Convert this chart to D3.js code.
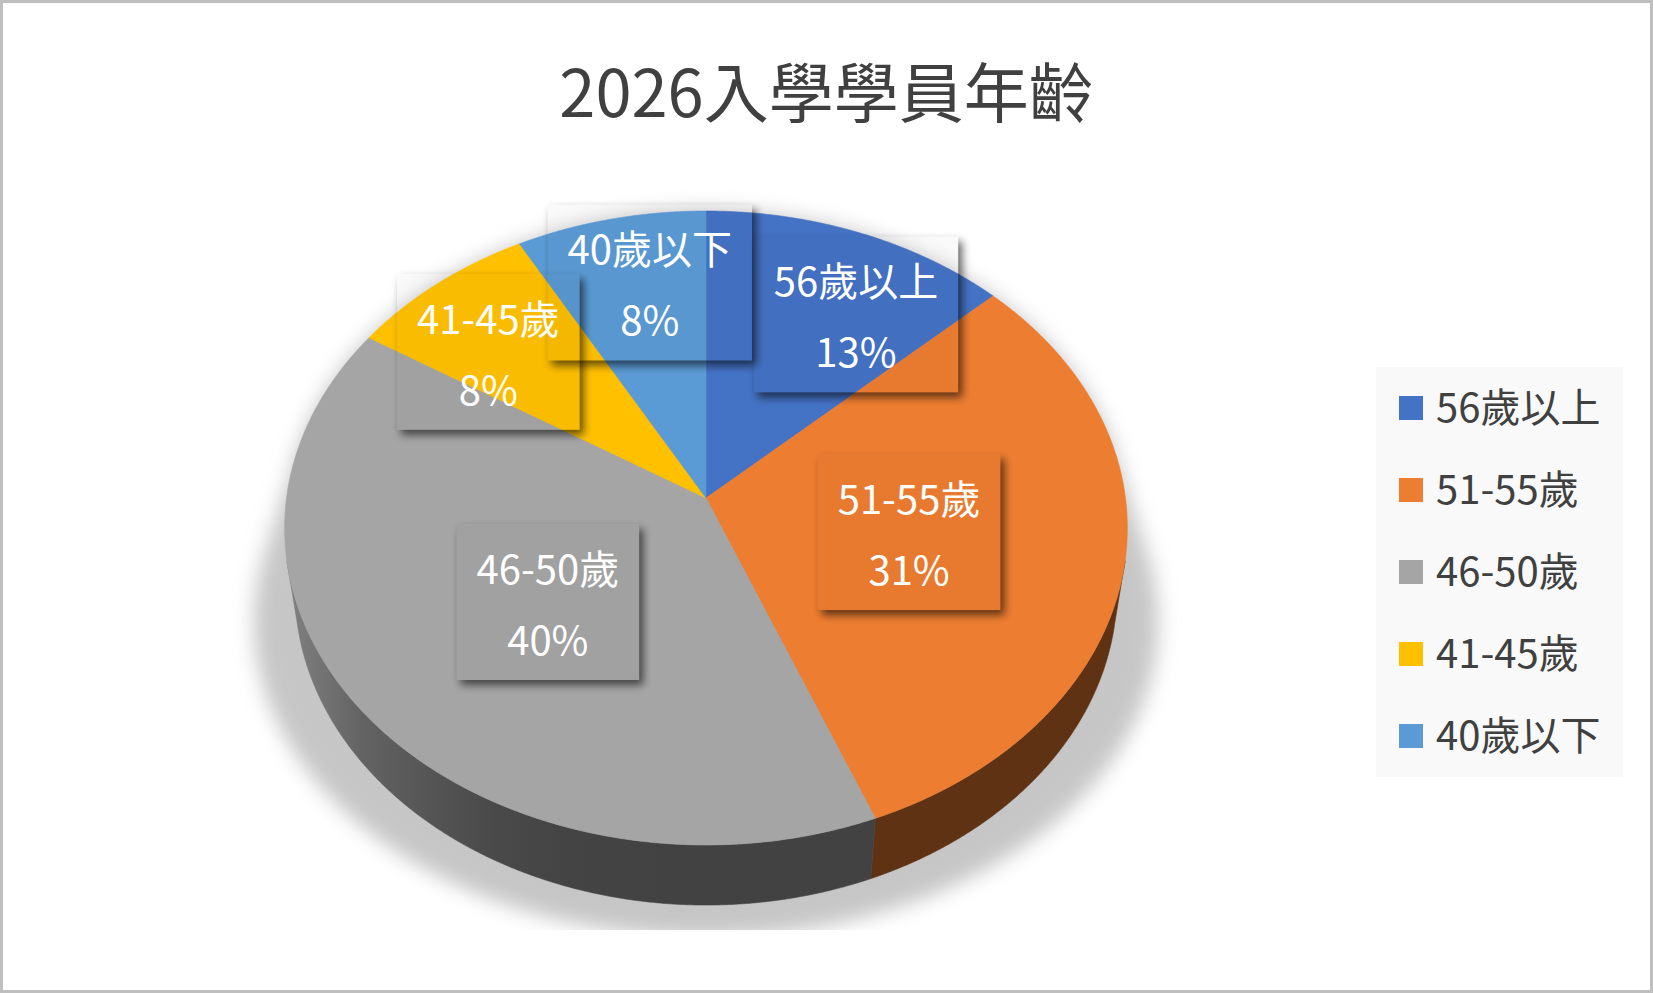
<!DOCTYPE html>
<html>
<head>
<meta charset="utf-8">
<script src="https://cdn.jsdelivr.net/npm/d3@7"></script>
<style>
  body { margin: 0; background: #fff; }
  svg { display: block; }
  text { font-family: "Noto Sans CJK TC", "Noto Sans", sans-serif; }
</style>
</head>
<body>
<svg id="chart" width="1653" height="993"></svg>
<script>
// DATA
var title = "2026入學學員年齡";
var categories = ["56歲以上", "51-55歲", "46-50歲", "41-45歲", "40歲以下"];
var shares = [13, 31, 40, 8, 8];
var colors = ["#4472C4", "#ED7D31", "#A5A5A5", "#FFC000", "#5B9BD5"];

// LAYOUT
var width = 1653, height = 993;
// perspective camera for the tilted pie (unit radius disc)
var cam = { cx: 706, cy: 498, F: 2936, D: 7.0, s: 0.749, c: 0.6626, h: 0.232 };
// manual label nudges (px) from the projected slice centroid, like the Excel layout
var labelNudge = [[52, -12], [-54, -7], [50, -23], [-47, -8], [5, -35]];
// side shading: [offset, brightness factor] across the pie width
var sideShade = [[0, 0.78], [0.09, 0.6], [0.17, 0.515], [0.25, 0.44], [0.33, 0.41], [0.45, 0.4], [1, 0.4]];

var svg = d3.select("#chart");
var defs = svg.append("defs");

// project a point of the disc: angle clockwise from 12 o'clock, radius fraction, height (0 top, -h bottom)
function project(theta, r, y) {
  var X = r * Math.sin(theta), Z = -r * Math.cos(theta);
  var depth = cam.D - (y * cam.s + Z * cam.c);
  var yc = y * cam.c - Z * cam.s;
  return [cam.cx + cam.F * X / depth, cam.cy - cam.F * yc / depth];
}

var step = Math.PI / 720;
function rim(a0, a1, r, y) {
  var pts = [];
  var n = Math.max(2, Math.ceil((a1 - a0) / step));
  for (var i = 0; i <= n; i++) {
    pts.push(project(a0 + (a1 - a0) * i / n, r, y));
  }
  return pts;
}

var line = d3.line();
var arcs = d3.pie().sort(null).value(function(d) { return d; })(shares);
var total = d3.sum(shares);
var pct = d3.format(".0%");

// pie drop shadow
var shFilter = defs.append("filter").attr("id", "pieShadow")
  .attr("x", "-20%").attr("y", "-20%").attr("width", "140%").attr("height", "140%");
shFilter.append("feGaussianBlur").attr("stdDeviation", 10);
defs.append("clipPath").attr("id", "shadowClip")
  .append("rect").attr("x", 0).attr("y", 0).attr("width", width).attr("height", 930);

var topRim = rim(0, 2 * Math.PI, 1, 0);
var lowRim = rim(0, 2 * Math.PI, 1, -cam.h).map(function(p) {
  return [cam.cx + (p[0] - cam.cx) * 1.1, p[1] + 32];
});
var hull = d3.polygonHull(topRim.concat(lowRim));
svg.append("g").attr("clip-path", "url(#shadowClip)")
  .append("path")
  .attr("d", line(hull) + "Z")
  .attr("fill", "#c6c6c6")
  .attr("filter", "url(#pieShadow)");

// side gradients
arcs.forEach(function(a, i) {
  var g = defs.append("linearGradient").attr("id", "side" + i)
    .attr("gradientUnits", "userSpaceOnUse")
    .attr("x1", 287).attr("x2", 1126).attr("y1", 0).attr("y2", 0);
  var base = d3.rgb(colors[i]);
  sideShade.forEach(function(st) {
    g.append("stop").attr("offset", st[0])
      .attr("stop-color", d3.rgb(base.r * st[1], base.g * st[1], base.b * st[1]).formatHex());
  });
});

// visible part of the cylinder wall
var vis = Math.acos(-1 / (cam.D * cam.c));
var visStart = vis - 0.02, visEnd = 2 * Math.PI - vis + 0.02;

var sides = svg.append("g");
arcs.forEach(function(a, i) {
  var t0 = Math.max(a.startAngle, visStart), t1 = Math.min(a.endAngle, visEnd);
  if (t1 <= t0) return;
  var pts = rim(t0, t1, 1, 0).concat(rim(t0, t1, 1, -cam.h).reverse());
  sides.append("path")
    .attr("d", line(pts) + "Z")
    .attr("fill", "url(#side" + i + ")")
    .attr("stroke", "url(#side" + i + ")")
    .attr("stroke-width", 0.6);
});

// top faces
svg.append("g").selectAll("path")
  .data(arcs)
  .enter()
  .append("path")
  .attr("d", function(a) {
    return line([project(0, 0, 0)].concat(rim(a.startAngle, a.endAngle, 1, 0))) + "Z";
  })
  .attr("fill", function(a, i) { return colors[i]; })
  .attr("stroke", function(a, i) { return colors[i]; })
  .attr("stroke-width", 0.6);

// data labels
var lf = defs.append("filter").attr("id", "lblShadow")
  .attr("x", "-30%").attr("y", "-30%").attr("width", "160%").attr("height", "160%");
lf.append("feGaussianBlur").attr("in", "SourceAlpha").attr("stdDeviation", 4).attr("result", "blur");
lf.append("feOffset").attr("in", "blur").attr("dx", 4).attr("dy", 5).attr("result", "off");
lf.append("feComponentTransfer").attr("in", "off").attr("result", "sh")
  .append("feFuncA").attr("type", "linear").attr("slope", 0.6);
lf.append("feComposite").attr("in", "sh").attr("in2", "SourceAlpha").attr("operator", "out");

var labelData = arcs.map(function(a, i) {
  var mid = (a.startAngle + a.endAngle) / 2;
  var p = project(mid, 0.62, 0);
  return { name: categories[i], value: pct(a.data / total), x: p[0] + labelNudge[i][0], y: p[1] + labelNudge[i][1] };
});

var shadowLayer = svg.append("g");
var boxLayer = svg.append("g");
var textLayer = svg.append("g");

labelData.forEach(function(d) {
  var t = textLayer.append("g").attr("fill", "#fff").attr("font-size", 40).attr("text-anchor", "middle");
  var t1 = t.append("text").attr("x", d.x).attr("y", d.y - 20).text(d.name);
  var t2 = t.append("text").attr("x", d.x).attr("y", d.y + 51).text(d.value);
  var w = Math.max(t1.node().getComputedTextLength(), t2.node().getComputedTextLength()) + 40;
  shadowLayer.append("rect")
    .attr("x", d.x - w / 2).attr("y", d.y - 80).attr("width", w).attr("height", 156)
    .attr("fill", "#000").attr("filter", "url(#lblShadow)");
  boxLayer.append("rect")
    .attr("x", d.x - w / 2).attr("y", d.y - 80).attr("width", w).attr("height", 156)
    .attr("fill", "rgba(0,0,0,0.02)");
});

// legend
var legend = svg.append("g");
legend.append("rect").attr("x", 1376).attr("y", 367).attr("width", 247).attr("height", 410).attr("fill", "#f9f9f9");
var item = legend.selectAll("g.item")
  .data(categories)
  .enter()
  .append("g")
  .attr("class", "item")
  .attr("transform", function(d, i) { return "translate(1399," + (408 + i * 82) + ")"; });
item.append("rect").attr("x", 0).attr("y", -12).attr("width", 24).attr("height", 24)
  .attr("fill", function(d, i) { return colors[i]; });
item.append("text").attr("x", 37).attr("y", 14).attr("font-size", 40).attr("fill", "#404040")
  .text(function(d) { return d; });

// title
svg.append("text")
  .attr("x", width / 2).attr("y", 117)
  .attr("text-anchor", "middle")
  .attr("font-size", 65)
  .attr("fill", "#404040")
  .text(title);

// chart border
svg.append("rect").attr("x", 1.5).attr("y", 1.5).attr("width", width - 3).attr("height", height - 3)
  .attr("fill", "none").attr("stroke", "#bfbfbf").attr("stroke-width", 3);
</script>
</body>
</html>
